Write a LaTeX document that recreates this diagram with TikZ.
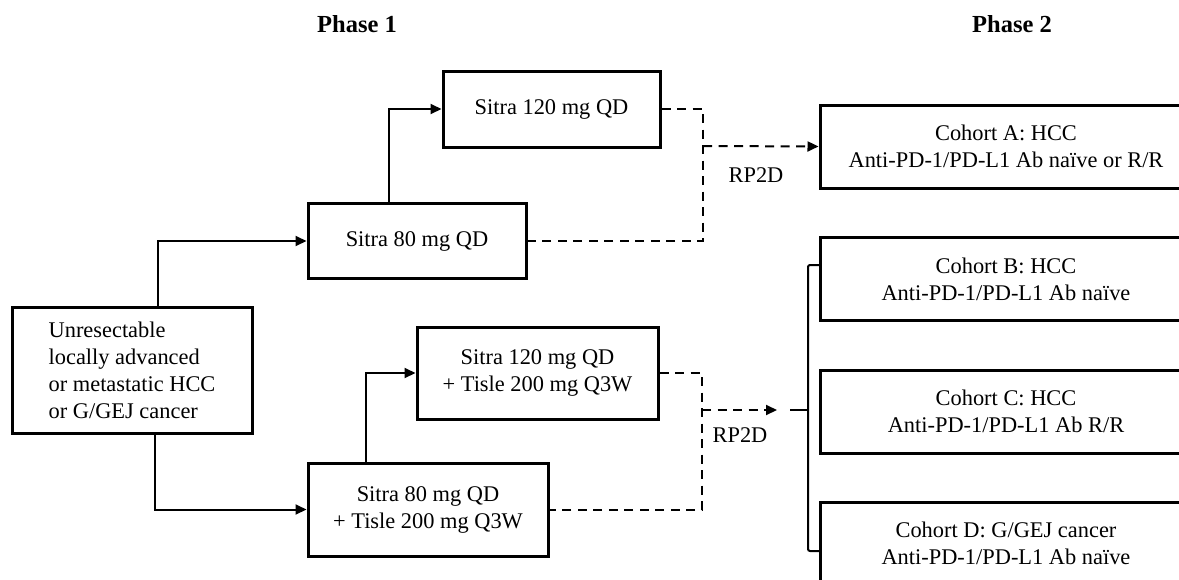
\documentclass[tikz,border=0pt]{standalone}
\usepackage{fontspec}
\setmainfont{Liberation Serif}
\usetikzlibrary{arrows.meta}
\begin{document}
\begin{tikzpicture}[x=1pt,y=-1pt,
  box/.style={draw,line width=3pt,inner sep=0pt,align=center,
    font=\fontsize{22.4}{27}\selectfont},
  conn/.style={line width=2pt},
  arr/.style={conn,-{Triangle[length=11pt,width=10pt]}},
  dconn/.style={conn,dash pattern=on 9pt off 6.5pt},
  darr/.style={dconn,-{Triangle[length=11pt,width=10pt]}},
  lbl/.style={font=\fontsize{22.4}{27}\selectfont,inner sep=0pt},
  ttl/.style={font=\fontsize{24.5}{28}\selectfont\bfseries,inner sep=0pt}]
\useasboundingbox (0,0) rectangle (1179,579);
\clip (0,0) rectangle (1179,579);

\node[ttl] (p1) at (357,24) {Phase 1};
\node[ttl] (p2) at (1012,24) {Phase 2};

\node[box,minimum width=240pt,minimum height=126pt,align=left] (un) at (132,370)
  {Unresectable\\locally advanced\\or metastatic HCC\\or G/GEJ cancer};
\node[box,minimum width=218pt,minimum height=75pt] (s80) at (417,241) {Sitra 80 mg QD};
\node[box,minimum width=217pt,minimum height=76pt] (s120) at (551.5,109) {Sitra 120 mg QD};
\node[box,minimum width=241pt,minimum height=92pt] (t120) at (537.5,373) {Sitra 120 mg QD\\+ Tisle 200 mg Q3W};
\node[box,minimum width=240pt,minimum height=93pt] (t80) at (428,509.5) {Sitra 80 mg QD\\+ Tisle 200 mg Q3W};

\node[box,minimum width=372pt,minimum height=83pt] (cA) at (1006,146.5) {Cohort A: HCC\\Anti-PD-1/PD-L1 Ab naïve or R/R};
\node[box,minimum width=372pt,minimum height=83pt] (cB) at (1006,279) {Cohort B: HCC\\Anti-PD-1/PD-L1 Ab naïve};
\node[box,minimum width=372pt,minimum height=83pt] (cC) at (1006,411.5) {Cohort C: HCC\\Anti-PD-1/PD-L1 Ab R/R};
\node[box,minimum width=372pt,minimum height=83pt] (cD) at (1006,543.5) {Cohort D: G/GEJ cancer\\Anti-PD-1/PD-L1 Ab naïve};

% phase 1 solid arrows
\draw[arr] ([xshift=26pt]un.north) |- (s80.west);
\draw[arr] ([xshift=23pt]un.south) |- (t80.west);
\draw[arr] ([xshift=-28pt]s80.north) |- (s120.west);
\draw[arr] ([xshift=-62pt]t80.north) |- (t120.west);

% upper RP2D
\coordinate (jA) at (703,146);
\draw[dconn] (s120.east) -| (jA |- s80.east) -- (s80.east);
\draw[darr] (jA) -- (cA.west);
\node[lbl] (r1) at (756,175) {RP2D};

% lower RP2D
\coordinate (jB) at (702,410);
\coordinate (jBend) at (777,410);
\draw[dconn] (t120.east) -| (jB |- t80.east) -- (t80.east);
\draw[darr] (jB) -- (jBend);
\node[lbl] (r2) at (740,435) {RP2D};

% bracket
\coordinate (bk) at (790,410);
\coordinate (bkt) at (820,265);
\coordinate (bkb) at (820,551);
\draw[conn] (bk) -- (808,410);
\draw[conn,rounded corners=2pt] (bkt) -- (808,265) -- (808,551) -- (bkb);
\end{tikzpicture}
\end{document}
